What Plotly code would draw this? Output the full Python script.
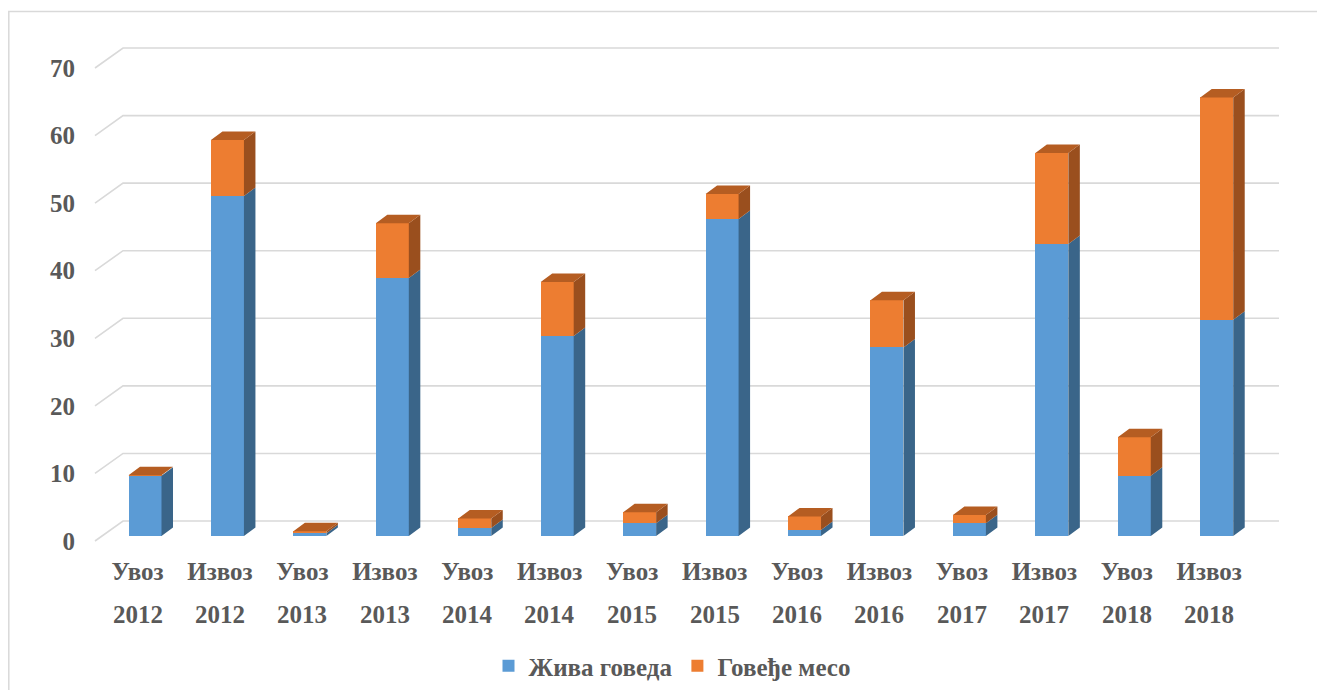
import plotly.graph_objects as go

# ---- data ----
flows = ["Увоз", "Извоз"] * 7
years = ["2012", "2012", "2013", "2013", "2014", "2014", "2015", "2015",
         "2016", "2016", "2017", "2017", "2018", "2018"]
live_cattle = [8.9, 50.3, 0.4, 38.2, 1.2, 29.6, 1.9, 46.9, 0.9, 27.9, 1.9, 43.2, 8.9, 32.0]
beef = [0.1, 8.3, 0.3, 8.1, 1.4, 8.0, 1.6, 3.7, 2.0, 7.0, 1.2, 13.5, 5.7, 32.9]
series_names = ["Жива говеда", "Говеђе месо"]
y_ticks = [0, 10, 20, 30, 40, 50, 60, 70]

# ---- style / geometry constants (figure pixel coordinates) ----
W, H = 1309, 682
ML, MR, MT, MB = 70, 12, 22, 145
PX_PER_CAT = 82.44
X0_PX = 137.0          # pixel of category 0 centre
PX_PER_UNIT = 6.757
Y0_PX = 528.0          # pixel of value 0 (front plane)

xmin = (ML - X0_PX) / PX_PER_CAT
xmax = (W - MR - X0_PX) / PX_PER_CAT
ymax = (Y0_PX - MT) / PX_PER_UNIT
ymin = (Y0_PX - (H - MB)) / PX_PER_UNIT

BAR_W = 33.0 / PX_PER_CAT
DX = 11.5 / PX_PER_CAT
DY = 8.5 / PX_PER_UNIT
BACK_DY = 15.0 / PX_PER_UNIT
FRONT_DY = -5.0 / PX_PER_UNIT
wall_left = (115.0 - X0_PX) / PX_PER_CAT
wall_right = (1271.0 - X0_PX) / PX_PER_CAT
diag_front = (87.0 - X0_PX) / PX_PER_CAT
label_shift = -7.5 / PX_PER_CAT

BLUE, BLUE_SIDE = "#5B9BD5", "#3A6589"
ORANGE, ORANGE_SIDE, ORANGE_TOP = "#ED7D31", "#9A4F1E", "#B55D22"
TXT = "#595959"
GRID = "#D9D9D9"
FONT = "Liberation Serif, Times New Roman, serif"
FS = 25

xs = list(range(len(flows)))

fig = go.Figure()

# side and top faces (pseudo-3D), computed from the data
def side_faces(bases, heights):
    px, py = [], []
    for i, b, h in zip(xs, bases, heights):
        r = i + BAR_W / 2
        t = b + h
        px += [r, r + DX, r + DX, r, r, None]
        py += [b, b + DY, t + DY, t, b, None]
    return px, py

bx, by = side_faces([0] * len(xs), live_cattle)
fig.add_trace(go.Scatter(x=bx, y=by, mode="lines", fill="toself",
                         fillcolor=BLUE_SIDE, line=dict(width=0),
                         showlegend=False, hoverinfo="skip"))
ox, oy = side_faces(live_cattle, beef)
fig.add_trace(go.Scatter(x=ox, y=oy, mode="lines", fill="toself",
                         fillcolor=ORANGE_SIDE, line=dict(width=0),
                         showlegend=False, hoverinfo="skip"))
tx, ty = [], []
for i, a, b in zip(xs, live_cattle, beef):
    t = a + b
    l, r = i - BAR_W / 2, i + BAR_W / 2
    tx += [l, l + DX, r + DX, r, l, None]
    ty += [t, t + DY, t + DY, t, t, None]
fig.add_trace(go.Scatter(x=tx, y=ty, mode="lines", fill="toself",
                         fillcolor=ORANGE_TOP, line=dict(width=0),
                         showlegend=False, hoverinfo="skip"))

# front faces
fig.add_trace(go.Bar(x=xs, y=live_cattle, name=series_names[0], width=BAR_W,
                     marker=dict(color=BLUE, line=dict(width=0))))
fig.add_trace(go.Bar(x=xs, y=beef, name=series_names[1], width=BAR_W,
                     marker=dict(color=ORANGE, line=dict(width=0))))

# back-wall gridlines with side-wall diagonals
shapes = []
for v in y_ticks:
    path = (f"M {diag_front},{v + FRONT_DY} L {wall_left},{v + BACK_DY} "
            f"L {wall_right},{v + BACK_DY}")
    shapes.append(dict(type="path", path=path, xref="x", yref="y",
                       line=dict(color=GRID, width=1.6), layer="below"))

# chart border (right and bottom edges fall outside the picture)
pw = W - ML - MR
ph = H - MT - MB
shapes.append(dict(type="rect", xref="paper", yref="paper",
                   x0=(0.8 - ML) / pw, x1=(W + 20 - ML) / pw,
                   y0=(H - MB - (H + 20)) / ph, y1=(H - MB - 3.5) / ph,
                   line=dict(color=GRID, width=1.5), layer="below"))

# year row (second line of category labels)
bold_font = dict(family=FONT, size=FS, color=TXT, weight="bold")
annotations = []
for i, yr in zip(xs, years):
    annotations.append(dict(x=i + label_shift, y=(H - MB - 606) / ph,
                            xref="x", yref="paper", text=yr, showarrow=False,
                            yanchor="middle", xanchor="center",
                            font=bold_font))

fig.update_layout(
    width=W, height=H, autosize=False,
    margin=dict(l=ML, r=MR, t=MT, b=MB, autoexpand=False),
    paper_bgcolor="white", plot_bgcolor="white",
    barmode="stack", bargap=0,
    font=dict(family=FONT, size=FS, color=TXT),
    shapes=shapes, annotations=annotations,
    xaxis=dict(range=[xmin, xmax], showgrid=False, zeroline=False,
               showline=False, ticks="", automargin=False,
               tickvals=[i + label_shift for i in xs], ticktext=flows,
               ticklabelstandoff=9, tickfont=bold_font),
    yaxis=dict(range=[ymin, ymax], showgrid=False, zeroline=False,
               showline=False, ticks="", automargin=False,
               tickvals=[v + FRONT_DY for v in y_ticks],
               ticktext=[str(v) for v in y_ticks],
               ticklabelstandoff=2, tickfont=bold_font),
    legend=dict(orientation="h", xref="container", yref="container",
                x=664 / W, y=(H - 658) / H,
                xanchor="center", yanchor="middle",
                font=bold_font, traceorder="normal", itemclick=False),
    showlegend=True,
)

fig.write_html("out.html")
